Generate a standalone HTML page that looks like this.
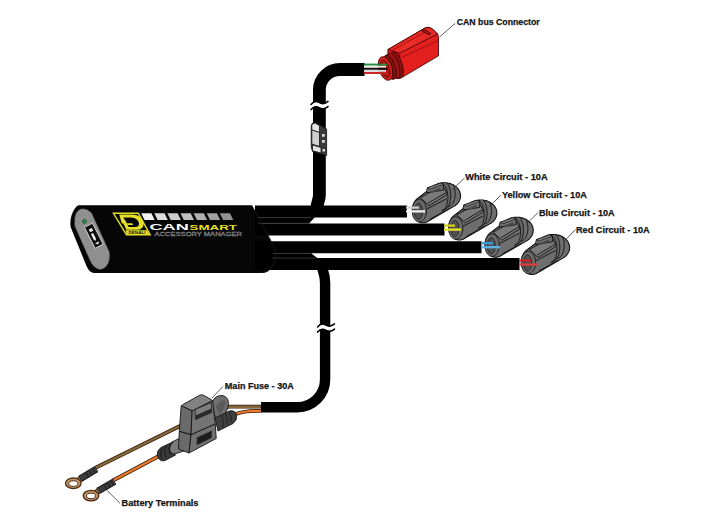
<!DOCTYPE html>
<html><head><meta charset="utf-8">
<style>
html,body{margin:0;padding:0;background:#fff;width:720px;height:527px;overflow:hidden}
svg{display:block}
text{font-family:"Liberation Sans",sans-serif;font-weight:bold}
</style></head><body>
<svg width="720" height="527" viewBox="0 0 720 527">
<defs>
  <clipPath id="connclip"><path d="M-5.72 -10.97 L9.93 -23.14 L10.55 -23.61 L11.19 -24.05 L11.86 -24.47 L12.56 -24.86 L13.29 -25.22 L14.03 -25.54 L14.80 -25.84 L15.58 -26.10 L16.38 -26.33 L17.19 -26.52 L18.02 -26.68 L18.85 -26.81 L19.69 -26.90 L20.54 -26.95 L21.39 -26.97 L22.23 -26.95 L23.08 -26.90 L23.92 -26.81 L24.75 -26.68 L25.58 -26.52 L26.39 -26.33 L27.19 -26.10 L27.98 -25.84 L28.74 -25.54 L29.49 -25.22 L30.21 -24.86 L30.91 -24.47 L31.58 -24.05 L32.23 -23.61 L32.84 -23.14 L33.43 -22.64 L33.98 -22.12 L34.49 -21.58 L34.97 -21.01 L35.42 -20.43 L35.82 -19.83 L36.19 -19.21 L36.51 -18.58 L36.79 -17.93 L37.03 -17.27 L37.23 -16.61 L37.39 -15.93 L37.50 -15.26 L37.56 -14.57 L37.59 -13.89 L37.56 -13.20 L37.50 -12.52 L37.39 -11.84 L37.23 -11.17 L37.03 -10.50 L36.79 -9.85 L36.51 -9.20 L36.19 -8.57 L35.82 -7.95 L35.42 -7.35 L34.97 -6.76 L34.49 -6.20 L33.98 -5.66 L33.43 -5.14 L32.84 -4.64 L32.23 -4.17 L31.58 -3.72 L30.91 -3.31 L4.27 11.95 L3.76 12.21 L3.24 12.44 L2.72 12.63 L2.18 12.79 L1.64 12.92 L1.10 13.01 L0.55 13.06 L0.00 13.08 L-0.55 13.06 L-1.10 13.01 L-1.64 12.92 L-2.18 12.79 L-2.72 12.63 L-3.24 12.44 L-3.76 12.21 L-4.27 11.95 L-4.77 11.65 L-5.25 11.33 L-5.72 10.97 L-6.17 10.58 L-6.61 10.17 L-7.03 9.72 L-7.42 9.25 L-7.80 8.75 L-8.16 8.23 L-8.49 7.69 L-8.81 7.12 L-9.09 6.54 L-9.36 5.94 L-9.59 5.32 L-9.80 4.69 L-9.99 4.04 L-10.14 3.39 L-10.27 2.72 L-10.37 2.05 L-10.44 1.37 L-10.49 0.68 L-10.50 0.00 L-10.49 -0.68 L-10.44 -1.37 L-10.37 -2.05 L-10.27 -2.72 L-10.14 -3.39 L-9.99 -4.04 L-9.80 -4.69 L-9.59 -5.32 L-9.36 -5.94 L-9.09 -6.54 L-8.81 -7.12 L-8.49 -7.69 L-8.16 -8.23 L-7.80 -8.75 L-7.42 -9.25 L-7.03 -9.72 L-6.61 -10.17 L-6.17 -10.58 Z"/></clipPath>
  <g id="conn">
    <path d="M-5.72 -10.97 L9.93 -23.14 L10.55 -23.61 L11.19 -24.05 L11.86 -24.47 L12.56 -24.86 L13.29 -25.22 L14.03 -25.54 L14.80 -25.84 L15.58 -26.10 L16.38 -26.33 L17.19 -26.52 L18.02 -26.68 L18.85 -26.81 L19.69 -26.90 L20.54 -26.95 L21.39 -26.97 L22.23 -26.95 L23.08 -26.90 L23.92 -26.81 L24.75 -26.68 L25.58 -26.52 L26.39 -26.33 L27.19 -26.10 L27.98 -25.84 L28.74 -25.54 L29.49 -25.22 L30.21 -24.86 L30.91 -24.47 L31.58 -24.05 L32.23 -23.61 L32.84 -23.14 L33.43 -22.64 L33.98 -22.12 L34.49 -21.58 L34.97 -21.01 L35.42 -20.43 L35.82 -19.83 L36.19 -19.21 L36.51 -18.58 L36.79 -17.93 L37.03 -17.27 L37.23 -16.61 L37.39 -15.93 L37.50 -15.26 L37.56 -14.57 L37.59 -13.89 L37.56 -13.20 L37.50 -12.52 L37.39 -11.84 L37.23 -11.17 L37.03 -10.50 L36.79 -9.85 L36.51 -9.20 L36.19 -8.57 L35.82 -7.95 L35.42 -7.35 L34.97 -6.76 L34.49 -6.20 L33.98 -5.66 L33.43 -5.14 L32.84 -4.64 L32.23 -4.17 L31.58 -3.72 L30.91 -3.31 L4.27 11.95 L3.76 12.21 L3.24 12.44 L2.72 12.63 L2.18 12.79 L1.64 12.92 L1.10 13.01 L0.55 13.06 L0.00 13.08 L-0.55 13.06 L-1.10 13.01 L-1.64 12.92 L-2.18 12.79 L-2.72 12.63 L-3.24 12.44 L-3.76 12.21 L-4.27 11.95 L-4.77 11.65 L-5.25 11.33 L-5.72 10.97 L-6.17 10.58 L-6.61 10.17 L-7.03 9.72 L-7.42 9.25 L-7.80 8.75 L-8.16 8.23 L-8.49 7.69 L-8.81 7.12 L-9.09 6.54 L-9.36 5.94 L-9.59 5.32 L-9.80 4.69 L-9.99 4.04 L-10.14 3.39 L-10.27 2.72 L-10.37 2.05 L-10.44 1.37 L-10.49 0.68 L-10.50 0.00 L-10.49 -0.68 L-10.44 -1.37 L-10.37 -2.05 L-10.27 -2.72 L-10.14 -3.39 L-9.99 -4.04 L-9.80 -4.69 L-9.59 -5.32 L-9.36 -5.94 L-9.09 -6.54 L-8.81 -7.12 L-8.49 -7.69 L-8.16 -8.23 L-7.80 -8.75 L-7.42 -9.25 L-7.03 -9.72 L-6.61 -10.17 L-6.17 -10.58 Z" fill="#6e6e6e" stroke="#111" stroke-width="1.1" stroke-linejoin="round"/>
    <g clip-path="url(#connclip)" stroke="#111" stroke-width="0.9" fill="none" stroke-linejoin="round">
      <path d="M-2.5 -12 L19.5 -24.5 L24.5 -15.5 L6 -4 Z" fill="#7a7a7a"/>
      <path d="M5 -6.4 L23.8 -17.5"/>
      <path d="M3.5 -0.5 L23.8 -11"/>
      <path d="M7 9.5 L26 -1"/>
      <path d="M18.87 -25.63 L19.52 -25.56 L20.16 -25.32 L20.79 -24.93 L21.39 -24.40 L21.96 -23.72 L22.50 -22.91 L23.00 -21.97 L23.44 -20.92 L23.84 -19.76 L24.17 -18.52 L24.44 -17.21 L24.65 -15.83 L24.79 -14.42 L24.86 -12.98 L24.86 -11.53 L24.79 -10.09 L24.65 -8.67 L24.44 -7.30 L24.17 -5.99 L23.84 -4.75 L23.44 -3.59 L23.00 -2.54 L22.50 -1.60 L21.96 -0.79 L21.39 -0.11 L20.79 0.43 L20.16 0.81 L19.52 1.05 L18.87 1.13 L21.81 -0.78 L22.45 -0.86 L23.10 -1.09 L23.72 -1.48 L24.32 -2.02 L24.90 -2.70 L25.44 -3.51 L25.93 -4.45 L26.38 -5.50 L26.77 -6.65 L27.11 -7.89 L27.38 -9.21 L27.59 -10.58 L27.73 -12.00 L27.80 -13.44 L27.80 -14.88 L27.73 -16.33 L27.59 -17.74 L27.38 -19.11 L27.11 -20.43 L26.77 -21.67 L26.38 -22.82 L25.93 -23.87 L25.44 -24.81 L24.90 -25.63 L24.32 -26.30 L23.72 -26.84 L23.10 -27.23 L22.45 -27.46 L21.81 -27.54 Z" fill="#666" stroke="#111" stroke-width="0.9"/>
      <path d="M24.74 -29.15 L25.55 -29.07 L26.35 -28.84 L27.14 -28.46 L27.89 -27.94 L28.61 -27.27 L29.28 -26.48 L29.90 -25.56 L30.46 -24.53 L30.95 -23.41 L31.37 -22.19 L31.71 -20.91 L31.97 -19.57 L32.14 -18.18 L32.23 -16.77 L32.23 -15.36 L32.14 -13.95 L31.97 -12.57 L31.71 -11.23 L31.37 -9.94 L30.95 -8.73 L30.46 -7.60 L29.90 -6.57 L29.28 -5.65 L28.61 -4.86 L27.89 -4.20 L27.14 -3.67 L26.35 -3.29 L25.55 -3.06 L24.74 -2.99"/>
    </g>
    <path d="M3.5 -17 L4.3 -21.8 L17.5 -26.6 L20.5 -25.3 L20.3 -19.5 Z" fill="#717171" stroke="#111" stroke-width="0.9" stroke-linejoin="round"/>
    <path d="M4.3 -21.8 L17.5 -26.6 L20.5 -25.3 L7.2 -20.5 Z" fill="#858585" stroke="#111" stroke-width="0.7" stroke-linejoin="round"/>
    <path d="M8.5 -18.6 L17.5 -22.2 L17.8 -20.2 L9 -16.6 Z" fill="#4a4a4a" stroke="none"/>
    <path d="M3.60 1.00 L3.56 2.17 L3.44 3.33 L3.25 4.46 L2.98 5.56 L2.64 6.60 L2.22 7.58 L1.75 8.49 L1.22 9.32 L0.63 10.06 L0.00 10.70 L-0.67 11.23 L-1.38 11.65 L-2.10 11.96 L-2.85 12.14 L-3.60 12.20 L-4.35 12.14 L-5.10 11.96 L-5.82 11.65 L-6.53 11.23 L-7.20 10.70 L-7.83 10.06 L-8.42 9.32 L-8.95 8.49 L-9.42 7.58 L-9.84 6.60 L-10.18 5.56 L-10.45 4.46 L-10.64 3.33 L-10.76 2.17 L-10.80 1.00 L-10.76 -0.17 L-10.64 -1.33 L-10.45 -2.46 L-10.18 -3.56 L-9.84 -4.60 L-9.42 -5.58 L-8.95 -6.49 L-8.42 -7.32 L-7.83 -8.06 L-7.20 -8.70 L-6.53 -9.23 L-5.82 -9.65 L-5.10 -9.96 L-4.35 -10.14 L-3.60 -10.20 L-2.85 -10.14 L-2.10 -9.96 L-1.38 -9.65 L-0.67 -9.23 L-0.00 -8.70 L0.63 -8.06 L1.22 -7.32 L1.75 -6.49 L2.22 -5.58 L2.64 -4.60 L2.98 -3.56 L3.25 -2.46 L3.44 -1.33 L3.56 -0.17 Z" fill="#6a6a6a" stroke="#141414" stroke-width="0.9"/>
    <path d="M-0.40 1.50 L-0.42 2.34 L-0.49 3.16 L-0.60 3.97 L-0.75 4.75 L-0.94 5.50 L-1.16 6.20 L-1.43 6.85 L-1.72 7.45 L-2.05 7.97 L-2.40 8.43 L-2.77 8.81 L-3.16 9.11 L-3.57 9.33 L-3.98 9.46 L-4.40 9.50 L-4.82 9.46 L-5.23 9.33 L-5.64 9.11 L-6.03 8.81 L-6.40 8.43 L-6.75 7.97 L-7.08 7.45 L-7.37 6.85 L-7.64 6.20 L-7.86 5.50 L-8.05 4.75 L-8.20 3.97 L-8.31 3.16 L-8.38 2.34 L-8.40 1.50 L-8.38 0.66 L-8.31 -0.16 L-8.20 -0.97 L-8.05 -1.75 L-7.86 -2.50 L-7.64 -3.20 L-7.37 -3.85 L-7.08 -4.45 L-6.75 -4.97 L-6.40 -5.43 L-6.03 -5.81 L-5.64 -6.11 L-5.23 -6.33 L-4.82 -6.46 L-4.40 -6.50 L-3.98 -6.46 L-3.57 -6.33 L-3.16 -6.11 L-2.77 -5.81 L-2.40 -5.43 L-2.05 -4.97 L-1.72 -4.45 L-1.43 -3.85 L-1.16 -3.20 L-0.94 -2.50 L-0.75 -1.75 L-0.60 -0.97 L-0.49 -0.16 L-0.42 0.66 Z" fill="#505050" stroke="#1a1a1a" stroke-width="0.8"/>
  </g>
</defs>

<!-- ===== device body ===== -->
<path d="M79 205.3 H252 L273.5 245.5 C276.5 252.5 276 262 271 268 C269 271 266 273 261 273 H95 C91 273 88.5 270.5 86.5 266 L70.8 227.5 C69.5 222 71 214 74.5 209 C76 207 77.5 205.3 79 205.3 Z" fill="#060606"/>
<path d="M74.9 226.8 L89.9 260.6 C92.5 266.5 97 270 101 269.5 C107 268.5 111 261 109.5 252 L92 213.5 C89.5 210 86 208.5 81.5 208.8 C77.5 209.5 74.8 214 74.6 219.5 C74.5 222 74.4 224.5 74.9 226.8 Z" fill="#8f8f8f" stroke="#262626" stroke-width="0.6"/>
<circle cx="84.5" cy="221.4" r="2" fill="#1f9a48" stroke="#0a3a1a" stroke-width="0.6"/>
<g transform="rotate(63 93.8 235.8)">
  <rect x="82" y="231.3" width="23.6" height="9" fill="#0d0d0d" stroke="#e0e0e0" stroke-width="0.8"/>
  <path d="M86 234 h3 v3.5 h-3 z" fill="#e8e8e8"/>
  <path d="M91 235.2 h6.5 l1.5 1.2 l-1.5 1.2 h-6.5 z" fill="#f0f0f0"/>
  <path d="M101 233.5 l2.5 2.3 l-2.5 2.3 z" fill="#e8e8e8"/>
</g>

<!-- ===== cables ===== -->
<g fill="none" stroke="#000" stroke-linecap="butt">
  <!-- CAN cable -->
  <path d="M317 214 V208 C317 202 319.4 200 319.4 195 V90 A20.5 20.5 0 0 1 339.9 69.5 H364.5" stroke-width="12.8"/>
  <!-- power cable -->
  <path d="M321 262 C321.5 270 325.1 272 325.1 283 V379.5 A27.7 27.7 0 0 1 297.4 407.2 H261" stroke-width="10.4"/>
  <!-- bands -->
  <path d="M255 217.2 H314.9 L309 223.5 H255 Z M255 253.2 H311.1 L317.9 258.5 H255 Z" fill="#000" stroke="none"/>
  <path d="M255 211.5 H407" stroke-width="12"/>
  <path d="M255 229.6 H444.5" stroke-width="12"/>
  <path d="M255 247.2 H481.5" stroke-width="12"/>
  <path d="M255 264.1 H519.5" stroke-width="12"/>
</g>
<!-- separators near body -->
<g stroke="#3c3c3c" stroke-width="0.8" fill="none">
  <path d="M258 217.6 H310"/>
  <path d="M258 223.3 H309"/>
  <path d="M272 253.4 H312"/>
  <path d="M272 258.1 H315"/>
  <path d="M252 205.8 L273.5 245.5 C276.5 252.5 276 262 271 268 C269 271 266 272.5 261 272.5" stroke="#1e1e1e"/>
</g>
<!-- break marks -->
<g fill="none" stroke-linecap="round">
  <path d="M311 107 C313.5 104 316.5 103.5 319 105 S 324 107.5 328 104" stroke="#fff" stroke-width="4"/>
  <path d="M311 104.4 C313.5 101.4 316.5 100.9 319 102.4 S 324 104.9 328 101.4 M311 109.6 C313.5 106.6 316.5 106.1 319 107.6 S 324 110.1 328 106.6" stroke="#000" stroke-width="1.5"/>
  <path d="M317.5 329.5 C320.0 326.5 323.0 326.0 325.5 327.5 S 330.5 330.0 334.5 326.5" stroke="#fff" stroke-width="4"/>
  <path d="M317.5 326.9 C320.0 323.9 323.0 323.4 325.5 324.9 S 330.5 327.4 334.5 323.9 M317.5 332.1 C320.0 329.1 323.0 328.6 325.5 330.1 S 330.5 332.6 334.5 329.1" stroke="#000" stroke-width="1.5"/>
</g>
<!-- inline clip on CAN cable -->
<g stroke="#111" stroke-width="0.8" stroke-linejoin="round">
  <path d="M311.2 126 Q311.8 122 315.5 122.6 L320 125 L326.6 129 V155.5 L312.5 151.5 L311.2 147 Z" fill="#3a3a3a"/>
  <path d="M311.8 125.5 Q312.5 122.6 315.5 123.3 L319.5 125.8 V132.5 L311.8 130 Z" fill="#e4e4e4"/>
  <path d="M311.8 130 L319.5 132.5 V146.5 L311.8 144 Z" fill="#cfcfcf"/>
  <path d="M312.5 145 L321 147.5 V153 L312.5 150.8 Z" fill="#e2e2e2"/>
  <path d="M322 134 h2.8 v2.8 h-2.8 z M322 140 h2.8 v2.8 h-2.8 z M322.5 149 h2.5 v2.5 h-2.5 z" fill="#d8d8d8" stroke="none"/>
</g>

<!-- CAN wires -->
<g stroke-width="2">
  <path d="M364 64.6 H386" stroke="#1f8a3a"/>
  <path d="M364 66.7 H386" stroke="#eaeaea"/>
  <path d="M364 68.8 H386" stroke="#111"/>
  <path d="M364 70.9 H386" stroke="#dcdcdc"/>
  <path d="M364 73 H386" stroke="#c8282a"/>
</g>

<!-- CAN connector (red) -->
<g stroke="#4a0808" stroke-width="0.9" stroke-linejoin="round">
  <path d="M387.9 49.6 L425 28 Q429 25.8 433 29.5 L437.5 34 Q438.5 35.5 438.5 37.5 L438.5 55.8 L401 78 Q398 79.5 395 77.5 L388 72 Z" fill="#e3201d"/>
  <path d="M387.9 49.6 L425 28 Q429 25.8 433 29.5 L437.5 34 L399.6 53.3 Z" fill="#ea2a26"/>
  <path d="M399.6 53.3 V78" fill="none"/>
  <path d="M400.6 57.8 L438.3 40.6" fill="none" stroke="#9a1010"/>
  <path d="M392 50.5 L428 30.5" fill="none" stroke="#9a1010"/>
  <path d="M424 29.5 L431 33.5 L429 35 L422 31 Z" fill="#b81616"/>
  <ellipse cx="397" cy="64.5" rx="5" ry="13.8" fill="#8a1010" transform="rotate(-18 397 64.5)"/>
  <ellipse cx="393.5" cy="65.8" rx="5.2" ry="13.4" fill="#a51414" transform="rotate(-18 393.5 65.8)"/>
  <ellipse cx="390" cy="67.1" rx="5.4" ry="12.8" fill="#7e0f0f" transform="rotate(-18 390 67.1)"/>
  <ellipse cx="385.5" cy="68.5" rx="6.5" ry="12.2" fill="#e02220" transform="rotate(-18 385.5 68.5)"/>
  <ellipse cx="385.2" cy="68.8" rx="4.2" ry="9" fill="#b51717" transform="rotate(-18 385.2 68.8)"/>
</g>
<g stroke-width="1.8">
  <path d="M378 64.6 H387.5" stroke="#1f8a3a"/>
  <path d="M378 66.7 H386" stroke="#eaeaea"/>
  <path d="M378 68.8 H388" stroke="#111"/>
  <path d="M378 70.9 H386" stroke="#dcdcdc"/>
  <path d="M378 73 H387" stroke="#c8282a"/>
</g>

<!-- logo -->
<path d="M112.2 212.6 H138.6 L151.4 235.5 H126 Z" fill="#e6df2a"/>
<path d="M114.6 214 H137.8 L149 234.1 H126.8 Z" fill="#060606"/>
<path d="M125.6 230.3 H147 L149 234.1 H126.8 Z" fill="#e6df2a"/>
<path d="M119.2 214.6 H131.5 C139.5 214.6 144 219.5 143.5 224.8 C143 228.3 140.5 229.8 137.5 229.8 H126.4 L123.3 223.4 H121.8 Z" fill="#e6df2a"/>
<path d="M123.2 217.6 H131 C135.8 217.6 139 220.8 139 223.8 C139 225.9 137.5 227 135.5 227 H128.6 L125.8 221.2 Z" fill="#060606"/>
<path d="M126.8 223.2 H132.3 L133.1 225 H127.6 Z" fill="#e6df2a"/>
<text x="128.5" y="233.6" font-size="3.2" fill="#111" textLength="17" lengthAdjust="spacingAndGlyphs">DENALI</text>

<!-- bars -->
<g>
  <path d="M141.2 213.3 h10.2 l3.3 6.6 h-10.2 z" fill="#f2f2f2"/>
  <path d="M154.3 213.3 h10.2 l3.3 6.6 h-10.2 z" fill="#dedede"/>
  <path d="M167.4 213.3 h10.2 l3.3 6.6 h-10.2 z" fill="#cecece"/>
  <path d="M180.5 213.3 h10.2 l3.3 6.6 h-10.2 z" fill="#bfbfbf"/>
  <path d="M193.6 213.3 h10.2 l3.3 6.6 h-10.2 z" fill="#b0b0b0"/>
  <path d="M206.7 213.3 h10.2 l3.3 6.6 h-10.2 z" fill="#a2a2a2"/>
  <path d="M219.8 213.3 h10.2 l3.3 6.6 h-10.2 z" fill="#939393"/>
</g>
<text x="149.5" y="230.2" font-size="8.4" fill="#fff" textLength="39.3" lengthAdjust="spacingAndGlyphs">CAN</text>
<text x="189.6" y="230.2" font-size="6.9" fill="#e6df2a" textLength="47.4" lengthAdjust="spacingAndGlyphs">SMART</text>
<text x="154.6" y="236.3" font-size="5.6" fill="none" stroke="#a0a0a0" stroke-width="0.3" style="font-weight:normal" textLength="87.4" lengthAdjust="spacingAndGlyphs">ACCESSORY MANAGER</text>

<!-- connectors -->
<use href="#conn" transform="translate(422.95 209.70)"/>
<use href="#conn" transform="translate(459.30 226.95)"/>
<use href="#conn" transform="translate(495.65 244.20)"/>
<use href="#conn" transform="translate(532.00 261.45)"/>
<!-- circuit wires -->
<g stroke-width="2.3">
  <path d="M406 207.6 H419" stroke="#cfcfcf"/><path d="M406 211.4 H425" stroke="#f2f2f2"/>
  <path d="M444 225.6 H455" stroke="#d6cf1a"/><path d="M444 229.6 H461" stroke="#ece42a"/>
  <path d="M481 243.2 H493" stroke="#3a9ad6"/><path d="M481 247.2 H500" stroke="#5ab4ea"/>
  <path d="M519 260.5 H531" stroke="#c82424"/><path d="M519 264.5 H537" stroke="#e23a3a"/>
</g>

<!-- ===== fuse + battery wires ===== -->
<g fill="none" stroke-linecap="butt" stroke-linejoin="round">
  <path d="M261 406.7 H228 L180 426 L95.6 467.8" stroke="#2a1a08" stroke-width="3.8"/>
  <path d="M261 406.7 H228 L180 426 L95.6 467.8" stroke="#86663a" stroke-width="2.4"/>
  <path d="M261 410.9 Q245 410.5 236 414" stroke="#3a1a06" stroke-width="3.8"/>
  <path d="M261 410.9 Q245 410.5 236 414" stroke="#ea7a2e" stroke-width="2.4"/>
  <path d="M160 455.5 L113 480.5" stroke="#3a1a06" stroke-width="3.8"/>
  <path d="M160 455.5 L113 480.5" stroke="#ea7a2e" stroke-width="2.4"/>
</g>
<!-- ring terminals -->
<g stroke="#4a2e12" stroke-width="1.3">
  <path d="M75 479.5 L80.5 476.5 L83 480 L77.5 483 Z" fill="#c39468"/>
  <path d="M93 491.5 L98.5 488.5 L101 492 L95.5 495 Z" fill="#c39468"/>
  <ellipse cx="73.3" cy="483.3" rx="7.8" ry="5.3" fill="#c39468"/>
  <ellipse cx="73.3" cy="483.6" rx="4.5" ry="2.8" fill="#fff" stroke-width="1"/>
  <ellipse cx="91" cy="495.6" rx="7.8" ry="5.3" fill="#c39468"/>
  <ellipse cx="91" cy="495.9" rx="4.5" ry="2.8" fill="#fff" stroke-width="1"/>
</g>
<g stroke-linecap="butt">
  <path d="M80 479 L96.5 469" stroke="#161616" stroke-width="7"/>
  <path d="M80 479 L96.5 469" stroke="#3c3c3c" stroke-width="5"/>
  <path d="M98 491 L114.5 481.5" stroke="#161616" stroke-width="7"/>
  <path d="M98 491 L114.5 481.5" stroke="#3c3c3c" stroke-width="5"/>
  <path d="M86 473 l2.5 4 M89.5 471 l2.5 4 M93 469 l2.5 4 M104 485 l2.5 4 M107.5 483 l2.5 4 M111 481 l2.5 4" stroke="#1a1a1a" stroke-width="1"/>
</g>
<!-- fuse holder -->
<g stroke="#141414" stroke-width="0.9" stroke-linejoin="round">
  <!-- loop tether -->
  <path d="M212 404 C213 397 219 394.5 224 396 C229 398 229.5 404 227 410 C225 415 221 419 216 421 Z" fill="#6e6e6e"/>
  <path d="M216 407 C218 402 222 399.5 225 401 C226.5 404 224 410 219.5 414 Z" fill="#5a5a5a" stroke="none"/>
  <!-- right boot -->
  <path d="M215 418 L229.5 411 Q235.5 410 236.5 415 Q237.5 420 233 423.5 L218 431 Z" fill="#404040"/>
  <path d="M221.5 415.5 q2.5 5 1.5 12 M225.5 413.5 q2.5 5 1.5 11.5 M229.5 411.5 q2.5 5 1.5 10.5" fill="none" stroke="#1a1a1a" stroke-width="0.8"/>
  <!-- tube + left boot -->
  <path d="M180 438 L172 442 Q167.5 445 169 450.5 Q171 455 176 453.5 L187 450 Z" fill="#7a7a7a"/>
  <path d="M173 442 L162 447 Q156.5 450 157.5 456 Q159.5 462 165 460.5 L175.5 455 Q170 453.5 169.5 449 Q169.5 444.5 173 442 Z" fill="#3a3a3a"/>
  <path d="M162.5 447.5 q-3.5 5 -0.5 12 M166.5 445.5 q-3.5 5 -0.5 12 M170.5 443.5 q-3 5 -0.5 11" fill="none" stroke="#161616" stroke-width="0.9"/>
  <!-- lower body -->
  <path d="M179.3 431.2 L191 434.6 L189 453 L178.5 449 Z" fill="#6a6a6a"/>
  <path d="M191 434.6 L215.3 423.9 L216.2 438.5 L189 453 Z" fill="#727272"/>
  <path d="M196.8 437.5 L211.9 430.5 L211.9 437.8 L196.8 445.3 Z" fill="#1e1e1e" stroke="#555" stroke-width="0.6"/>
  <!-- cap left face -->
  <path d="M181.2 405.6 L192.1 410.8 L191 434.6 L179.3 431.2 Z" fill="#6a6a6a"/>
  <!-- cap front face -->
  <path d="M192.1 410.8 L212.5 400.3 L215.3 423.9 L191 434.6 Z" fill="#747474"/>
  <!-- cap top face -->
  <path d="M182.5 404.8 L199.5 395.3 Q201.6 394.2 203.6 395.3 L211.5 399.7 Q212.5 400.3 211.5 401 L193.5 410.3 Q192.1 410.8 190.7 410.1 L182.5 406.2 Q181.2 405.5 182.5 404.8 Z" fill="#828282"/>
  <path d="M195 409.5 L211.3 402.5 L211.5 412.5 L195.5 419.5 Z" fill="#7e7e7e" stroke-width="0.7"/>
  <path d="M195.6 415.5 L211.4 408.6 L211.5 412.5 L195.5 419.5 Z" fill="#2a2a2a" stroke="none"/>
</g>

<!-- ===== labels & leaders ===== -->
<g stroke="#333" stroke-width="0.8" fill="none">
  <path d="M439.5 37 L455 23.5"/>
  <path d="M452 190 L464.5 178"/>
  <path d="M489 207 L501 195"/>
  <path d="M526 224.5 L538 212.5"/>
  <path d="M564 241.5 L575.5 229.5"/>
  <path d="M212 398 L223 386.5"/>
  <path d="M106.7 490 L120 503.3"/>
</g>
<g fill="#151515" stroke="#151515" stroke-width="0.25" font-size="8.9">
  <text x="456.7" y="25.3" textLength="83" lengthAdjust="spacingAndGlyphs">CAN bus Connector</text>
  <text x="465.2" y="180.3" textLength="82.5" lengthAdjust="spacingAndGlyphs">White Circuit - 10A</text>
  <text x="501.9" y="198" textLength="85" lengthAdjust="spacingAndGlyphs">Yellow Circuit - 10A</text>
  <text x="538.9" y="216" textLength="75.8" lengthAdjust="spacingAndGlyphs">Blue Circuit - 10A</text>
  <text x="576" y="232.6" textLength="73.7" lengthAdjust="spacingAndGlyphs">Red Circuit - 10A</text>
  <text x="224.8" y="389.3" textLength="69" lengthAdjust="spacingAndGlyphs">Main Fuse - 30A</text>
  <text x="121.6" y="505.6" textLength="76.8" lengthAdjust="spacingAndGlyphs">Battery Terminals</text>
</g>
</svg>
</body></html>
